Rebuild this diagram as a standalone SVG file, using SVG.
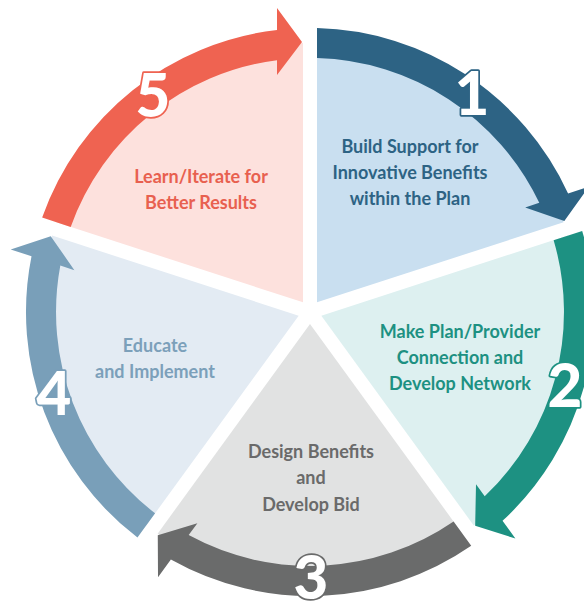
<svg xmlns="http://www.w3.org/2000/svg" width="584" height="605" viewBox="0 0 584 605">
<style>
.lbl{font-family:Lato,"Liberation Sans",sans-serif;font-weight:700;font-size:18px;text-anchor:middle}
.num{font-family:Lato,"Liberation Sans",sans-serif;font-weight:900;font-size:60px;text-anchor:middle;fill:#fff;stroke-width:3.5;paint-order:stroke;stroke-linejoin:round}
</style>
<rect width="584" height="605" fill="#fff"/>
<g id="wedges">
<path id="w1" d="M317 302.36 L317 43.1 A269 269 0 0 1 563.58 222.24 Z" fill="#c9dff0"/>
<path id="w2" d="M321.33 315.68 L567.9 235.56 A269 269 0 0 1 473.72 525.43 Z" fill="#ddf0f0"/>
<path id="w3" d="M310 323.91 L462.4 533.65 A269 269 0 0 1 157.6 533.65 Z" fill="#e1e2e2"/>
<path id="w4" d="M298.67 315.68 L146.28 525.43 A269 269 0 0 1 52.1 235.56 Z" fill="#e3ebf3"/>
<path id="w5" d="M303 302.36 L56.42 222.24 A269 269 0 0 1 303 43.1 Z" fill="#fde1dd"/>
</g>
<g id="connectors">
<path id="a1" d="M317 28.1 A284 284 0 0 1 568.09 193.45 L588.92 186.68 L564.32 220.95 L525.2 207.38 L539.28 202.81 A254 254 0 0 0 317 58.1 Z" fill="#2d6384"/>
<path id="a2" d="M582.17 230.93 A284 284 0 0 1 502.52 520.82 L515.39 538.54 L475.17 525.74 L476.01 484.34 L484.71 496.31 A254 254 0 0 0 553.63 240.2 Z" fill="#1d9182"/>
<path id="a3" d="M471.21 545.79 A284 284 0 0 1 170.88 559.62 L158.01 577.34 L157.77 535.14 L197.39 523.14 L188.69 535.11 A254 254 0 0 0 453.58 521.52 Z" fill="#6a6b6b"/>
<path id="a4" d="M137.47 537.57 A284 284 0 0 1 31.51 256.21 L10.68 249.44 L50.74 236.17 L74.4 270.14 L60.32 265.57 A254 254 0 0 0 155.1 513.3 Z" fill="#799fb9"/>
<path id="a5" d="M42.15 217.61 A284 284 0 0 1 277 29.9 L277 8 L302 42 L277 75 L277 60.2 A254 254 0 0 0 70.69 226.88 Z" fill="#ef6351"/>
</g>
<g id="step1">
<text class="lbl" fill="#2d6384"><tspan x="410" y="153">Build Support for</tspan><tspan x="410" y="179">Innovative Benefits</tspan><tspan x="410" y="205">within the Plan</tspan></text>
<text class="num" x="472" y="115" stroke="#2d6384">1</text>
</g>
<g id="step2">
<text class="lbl" fill="#1d9182"><tspan x="460" y="338">Make Plan/Provider</tspan><tspan x="460" y="364">Connection and</tspan><tspan x="460" y="390">Develop Network</tspan></text>
<text class="num" x="565" y="407" stroke="#1d9182">2</text>
</g>
<g id="step3">
<text class="lbl" fill="#6a6a6a"><tspan x="311" y="458">Design Benefits</tspan><tspan x="311" y="484">and</tspan><tspan x="311" y="511">Develop Bid</tspan></text>
<text class="num" x="311" y="599" stroke="#6a6b6b">3</text>
</g>
<g id="step4">
<text class="lbl" fill="#7ca0ba"><tspan x="155" y="352">Educate</tspan><tspan x="155" y="378">and Implement</tspan></text>
<text class="num" x="54" y="415" stroke="#799fb9">4</text>
</g>
<g id="step5">
<text class="lbl" fill="#e8604f"><tspan x="201" y="183">Learn/Iterate for</tspan><tspan x="201" y="209">Better Results</tspan></text>
<text class="num" x="153" y="117" stroke="#ef6351">5</text>
</g>
</svg>
